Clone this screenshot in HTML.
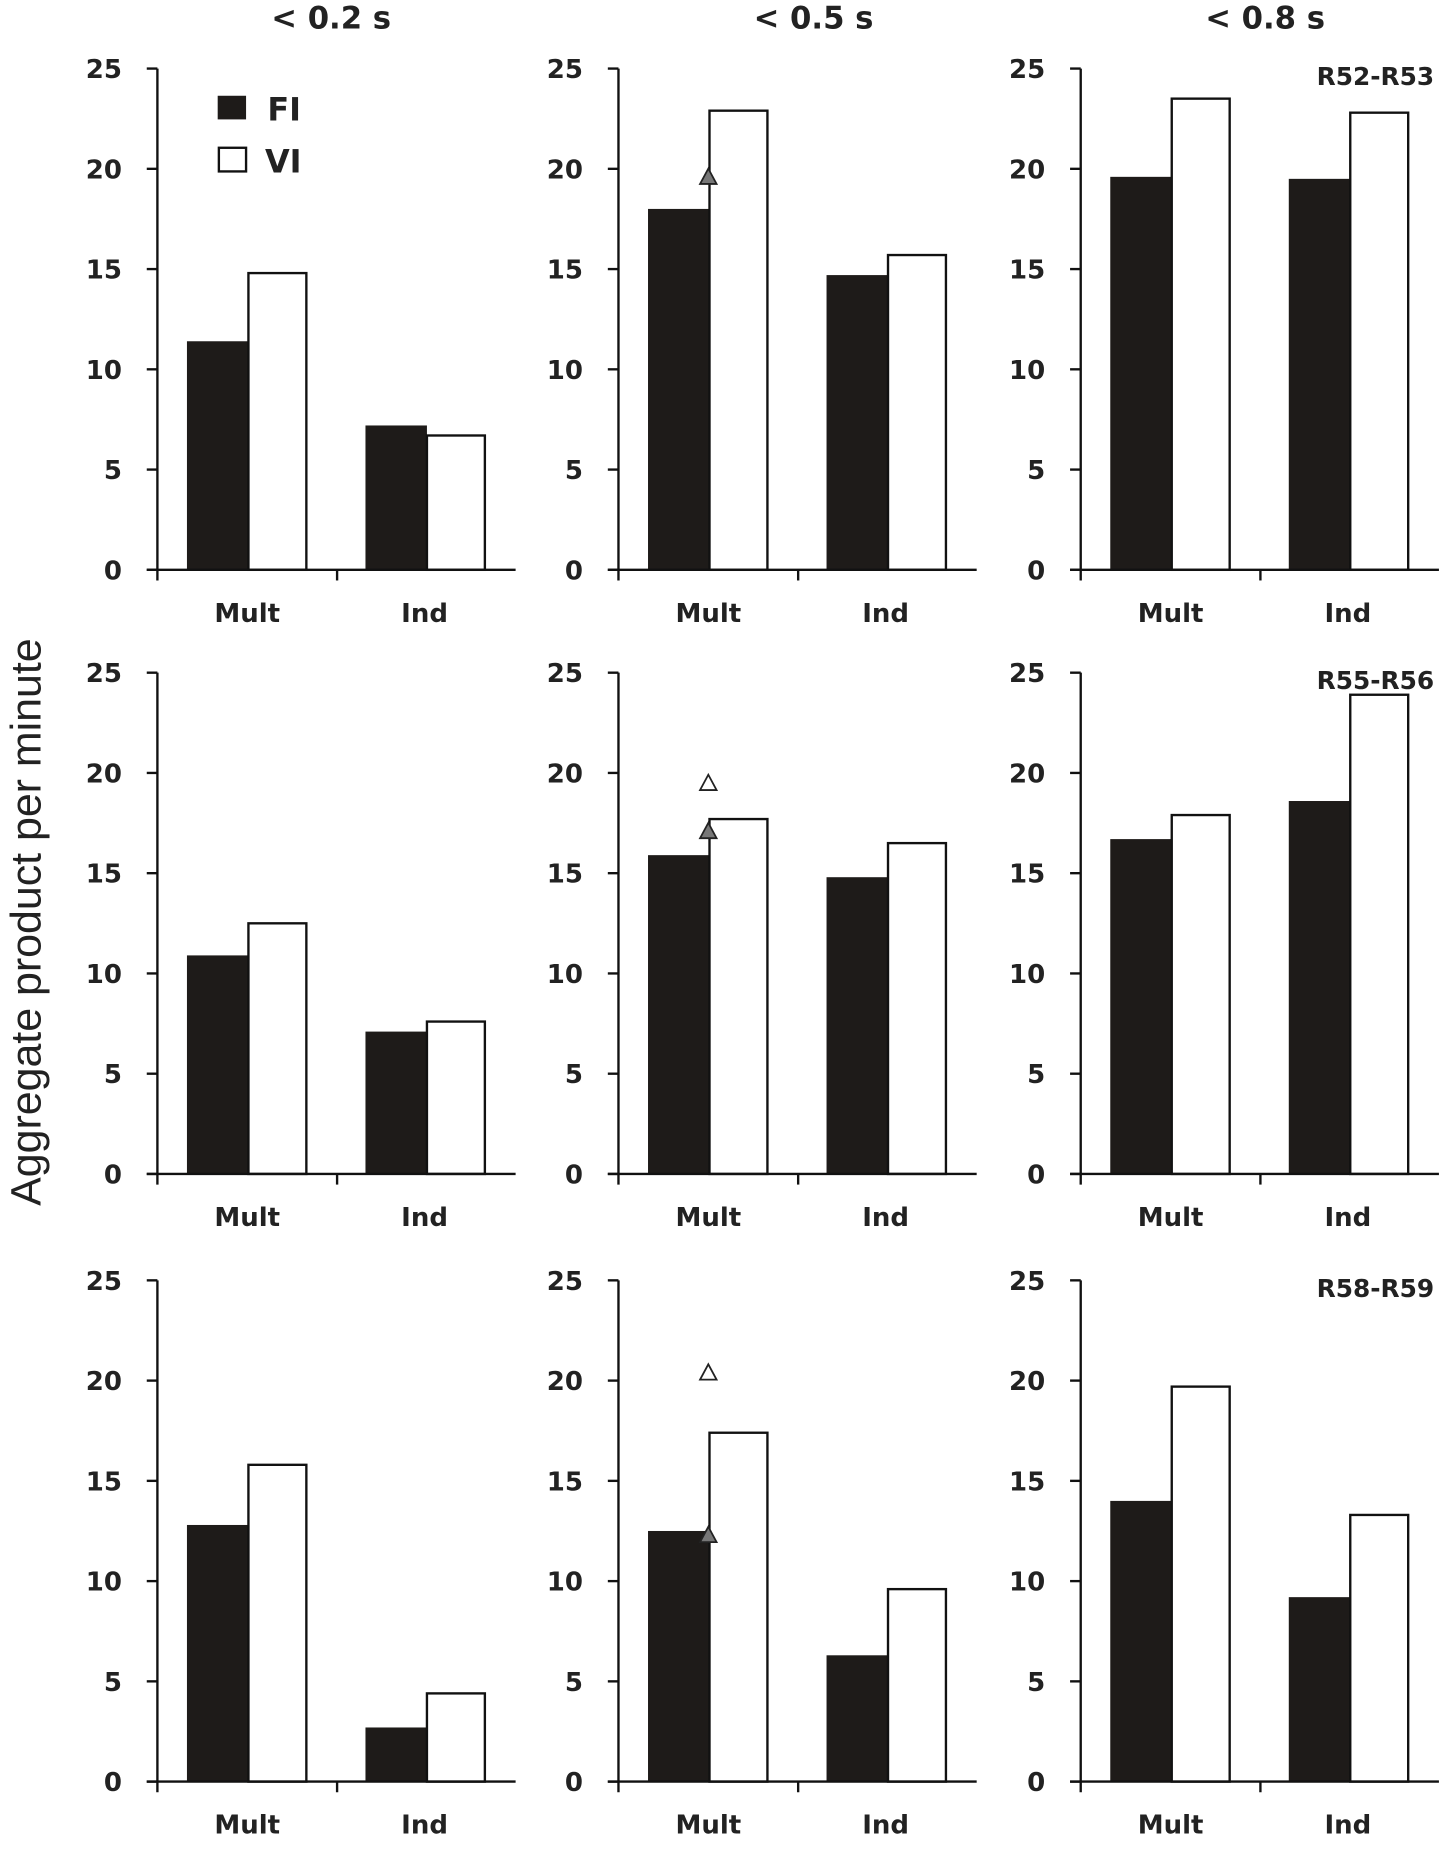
<!DOCTYPE html>
<html><head><meta charset="utf-8"><style>
html,body{margin:0;padding:0;background:#fff;}
svg{display:block;font-family:"DejaVu Sans","Liberation Sans",sans-serif;}
</style></head><body>
<svg id="chart" width="1445" height="1849" viewBox="0 0 1222 1564" xmlns="http://www.w3.org/2000/svg"></svg>
<script>
const colTitles = ["< 0.2 s", "< 0.5 s", "< 0.8 s"];
const rowLabels = ["R52-R53", "R55-R56", "R58-R59"];
const categories = ["Mult", "Ind"];
const yTicks = [0, 5, 10, 15, 20, 25];
// [row][col] -> [Mult, Ind]
const fiValues = [
  [[11.4, 7.2], [18.0, 14.7], [19.6, 19.5]],
  [[10.9, 7.1], [15.9, 14.8], [16.7, 18.6]],
  [[12.8, 2.7], [12.5, 6.3], [14.0, 9.2]]
];
const viValues = [
  [[14.8, 6.7], [22.9, 15.7], [23.5, 22.8]],
  [[12.5, 7.6], [17.7, 16.5], [17.9, 23.9]],
  [[15.8, 4.4], [17.4, 9.6], [19.7, 13.3]]
];
const grayTriangles = [19.6, 17.1, 12.3];
const openTriangles = [null, 19.5, 20.4];

const NS = "http://www.w3.org/2000/svg";
const svg = document.getElementById("chart");
function mk(tag, attrs, parent) {
  const e = document.createElementNS(NS, tag);
  for (const k in attrs) e.setAttribute(k, attrs[k]);
  (parent || svg).appendChild(e);
  return e;
}
const colX = [133, 523, 914];
const rowTop = [58, 569, 1083];
const plotH = 424, plotW = 303;

colTitles.forEach((t, c) => {
  const e = mk("text", {x: [280, 688, 1070][c], y: 24, "text-anchor": "middle", "font-size": 26, "font-weight": "bold", fill: "#222"});
  e.textContent = t;
  
  
});
const yl = mk("text", {x: 0, y: 0, transform: "translate(34,780) rotate(-90)", "text-anchor": "middle", "font-size": 36, "font-family": "Liberation Sans, sans-serif", fill: "#222", textLength: 480, lengthAdjust: "spacingAndGlyphs"});
yl.textContent = "Aggregate product per minute";



for (let r = 0; r < 3; r++) {
  for (let c = 0; c < 3; c++) {
    const x0 = colX[c], top = rowTop[r], base = top + plotH;
    const yS = v => base - v / 25 * plotH;
    const g = mk("g", {});
    
    
    [0, 1].forEach(i => {
      const gx = x0 + (i === 0 ? 25 : 176);
      const fv = fiValues[r][c][i], vv = viValues[r][c][i];
      const b1 = mk("rect", {x: gx, y: yS(fv), width: 52, height: base - yS(fv), fill: "#1e1b19"}, g);
      
      
      const b2 = mk("rect", {x: gx + 52, y: yS(vv), width: 49, height: base - yS(vv), fill: "#fff", stroke: "#111", "stroke-width": 2}, g);
      
      
      const cl = mk("text", {x: x0 + (i === 0 ? 76 : 226), y: base + 44, "text-anchor": "middle", "font-size": 22, "font-weight": "bold", fill: "#222"}, g);
      cl.textContent = categories[i];
      
      
    });
    mk("line", {x1: x0, y1: top, x2: x0, y2: base + 9, stroke: "#111", "stroke-width": 2}, g);
    mk("line", {x1: x0 - 9, y1: base, x2: x0 + plotW, y2: base, stroke: "#111", "stroke-width": 2}, g);
    mk("line", {x1: x0 + 152, y1: base, x2: x0 + 152, y2: base + 9, stroke: "#111", "stroke-width": 2}, g);
    yTicks.forEach(t => {
      mk("line", {x1: x0 - 9, y1: yS(t), x2: x0, y2: yS(t), stroke: "#111", "stroke-width": 2}, g);
      const tl = mk("text", {x: x0 - 30, y: yS(t) + 8, "text-anchor": "end", "font-size": 22, "font-weight": "bold", fill: "#222"}, g);
      tl.textContent = t;
      
      
    });
    if (c === 2) {
      const rl = mk("text", {x: 1213, y: top + 14, "text-anchor": "end", "font-size": 21, "font-weight": "bold", fill: "#222"}, g);
      rl.textContent = rowLabels[r];
      
      
    }
    if (c === 1) {
      const tx = x0 + 76;
      const tri = (v, fill) => {
        const y = yS(v);
        const p = mk("polygon", {points: `${tx - 7},${y + 6} ${tx + 7},${y + 6} ${tx},${y - 7}`, fill: fill, stroke: "#222", "stroke-width": 1.5}, g);
        
        
      };
      if (openTriangles[r] !== null) tri(openTriangles[r], "#fff");
      tri(grayTriangles[r], "#777");
    }
  }
}
const lg = mk("g", {});


mk("rect", {x: 184, y: 81, width: 24, height: 20, fill: "#1e1b19"}, lg);
mk("rect", {x: 185, y: 125, width: 23, height: 20, fill: "#fff", stroke: "#111", "stroke-width": 2}, lg);
const l1 = mk("text", {x: 226, y: 102, "font-size": 27, "font-weight": "bold", fill: "#222"}, lg);
l1.textContent = "FI";


const l2 = mk("text", {x: 224, y: 146, "font-size": 27, "font-weight": "bold", fill: "#222"}, lg);
l2.textContent = "VI";


</script>
</body></html>
